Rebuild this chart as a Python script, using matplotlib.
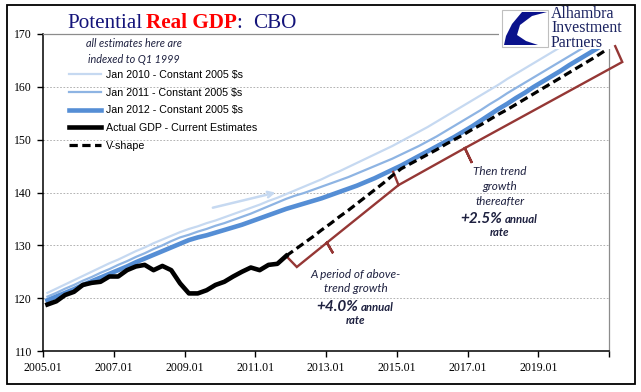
import numpy as np
import matplotlib.pyplot as plt
from matplotlib.patches import Rectangle, Polygon

# quarterly index: 0 = 2005 Q1 ... 63 = 2020 Q4
tick_labels = ['2005.01', '2007.01', '2009.01', '2011.01', '2013.01',
               '2015.01', '2017.01', '2019.01', '']

actual_gdp = [118.8, 119.4, 120.6, 121.2, 122.5, 122.9, 123.1, 124.1, 124.1, 125.3,
              126.0, 126.3, 125.3, 126.1, 125.3, 122.8, 120.9, 120.9, 121.5, 122.5,
              123.1, 124.1, 125.0, 125.8, 125.3, 126.3, 126.5, 128.0]

cbo_2010 = [121.0, 121.8, 122.6, 123.4, 124.2, 125.0, 125.8, 126.6, 127.3, 128.1,
            128.9, 129.6, 130.4, 131.1, 131.8, 132.5, 133.1, 133.6, 134.2, 134.7,
            135.3, 135.9, 136.5, 137.1, 137.7, 138.4, 139.0, 139.7, 140.4, 141.1,
            141.8, 142.5, 143.3, 144.0, 144.8, 145.6, 146.4, 147.2, 148.0, 148.8,
            149.7, 150.6, 151.5, 152.4, 153.4, 154.4, 155.4, 156.4, 157.4, 158.4,
            159.4, 160.4, 161.5, 162.5, 163.5, 164.5, 165.5, 166.5, 167.5, 168.5,
            169.5, 170.5, 171.5, 172.5]

cbo_2011 = [120.3, 121.0, 121.8, 122.5, 123.3, 124.0, 124.8, 125.5, 126.3, 127.0,
            127.8, 128.5, 129.3, 130.0, 130.8, 131.5, 132.0, 132.6, 133.1, 133.7,
            134.2, 134.8, 135.4, 136.0, 136.7, 137.4, 138.1, 138.8, 139.4, 139.9,
            140.5, 141.1, 141.7, 142.3, 142.9, 143.6, 144.3, 145.0, 145.7, 146.4,
            147.2, 148.0, 148.8, 149.7, 150.6, 151.6, 152.6, 153.6, 154.6, 155.6,
            156.7, 157.7, 158.8, 159.8, 160.8, 161.8, 162.8, 163.8, 164.8, 165.8,
            166.8, 167.8, 168.8, 169.8]

cbo_2012 = [119.6, 120.3, 121.0, 121.7, 122.5, 123.2, 123.9, 124.6, 125.3, 126.0,
            126.8, 127.5, 128.2, 128.9, 129.6, 130.3, 131.0, 131.5, 131.9, 132.4,
            132.9, 133.4, 133.9, 134.5, 135.1, 135.7, 136.3, 136.9, 137.4, 137.9,
            138.4, 138.9, 139.5, 140.1, 140.7, 141.3, 142.0, 142.7, 143.5, 144.3,
            145.1, 146.0, 146.9, 147.8, 148.7, 149.6, 150.5, 151.5, 152.5, 153.6,
            154.7, 155.8, 156.8, 157.9, 158.9, 160.0, 161.0, 162.0, 163.0, 164.1,
            165.1, 166.1, 167.1, 168.1]

# V-shape path starts where actual GDP ends (2011 Q4)
v_start = 27
v_shape = [128.0, 129.2, 130.4, 131.6, 132.9, 134.1, 135.4, 136.6, 137.9, 139.2,
           140.5, 141.8, 143.2, 144.5, 145.4, 146.3, 147.2, 148.1, 149.1, 150.0,
           150.9, 151.9, 152.8, 153.8, 154.8, 155.7, 156.7, 157.7, 158.7, 159.7,
           160.7, 161.7, 162.7, 163.7, 164.7, 165.7, 166.8]

# bracket annotations (quarter index, value)
bracket_low = [(27.6, 127.8), (28.7, 125.9), (32.1, 130.5), (32.8, 128.5),
               (32.1, 130.5), (40.2, 141.4), (39.6, 143.9)]
bracket_high = [(40.2, 141.4), (47.7, 148.4), (48.5, 145.6), (47.7, 148.4),
                (65.5, 164.7), (64.7, 167.7)]

W, H = 641, 392


def fx(px):
    return px / W


def fy(py):
    return 1 - py / H


NAVY = '#14147A'
NOTE = '#1E2140'
BROWN = '#953735'

fig = plt.figure(figsize=(W / 100, H / 100), dpi=100)
ax = fig.add_axes([fx(43), fy(351), fx(609) - fx(43), fy(34) - fy(351)])

x_all = np.arange(len(cbo_2012)) + 0.5
x_act = np.arange(len(actual_gdp)) + 0.5
x_v = np.arange(len(v_shape)) + v_start + 0.5

l10, = ax.plot(x_all, cbo_2010, color='#C6D9F1', lw=1.6, label='Jan 2010 - Constant 2005 $s', zorder=2)
l11, = ax.plot(x_all, cbo_2011, color='#8EB4E3', lw=1.6, label='Jan 2011 - Constant 2005 $s', zorder=2)
l12, = ax.plot(x_all, cbo_2012, color='#558ED5', lw=3.3, label='Jan 2012 - Constant 2005 $s', zorder=3)
lv, = ax.plot(x_v, v_shape, color='black', lw=2.3, dashes=(2.6, 1.4), label='V-shape', zorder=4)
la, = ax.plot(x_act, actual_gdp, color='black', lw=3.3, label='Actual GDP - Current Estimates',
              zorder=5, solid_joinstyle='round')

for pts in (bracket_low, bracket_high):
    bx, by = zip(*pts)
    ax.plot(bx, by, color=BROWN, lw=1.7, clip_on=False, zorder=3, solid_joinstyle='miter')

ax.annotate('', xy=(26.6, 140.1), xytext=(18.9, 137.0),
            arrowprops=dict(arrowstyle='->', color='#C6D9F1', lw=1.8))

ax.set_xlim(0, 64)
ax.set_ylim(110, 170)
ax.set_xticks(range(0, 65, 8))
ax.set_xticklabels(tick_labels)
ax.set_yticks(range(110, 171, 10))
ax.tick_params(direction='out', length=4, width=1, labelsize=8.5, pad=4)
for lab in ax.get_xticklabels() + ax.get_yticklabels():
    lab.set_family('Liberation Serif')
ax.yaxis.grid(True, color='#A6A6A6', lw=0.6, ls=(0, (2, 2)))
ax.set_axisbelow(True)
for side in ('left', 'bottom'):
    ax.spines[side].set_color('black')
    ax.spines[side].set_linewidth(1.1)
for side in ('top', 'right'):
    ax.spines[side].set_color('#8C8C8C')
    ax.spines[side].set_linewidth(0.9)

ax.legend([l10, l11, l12, la, lv], [h.get_label() for h in (l10, l11, l12, la, lv)],
          loc='upper left', bbox_to_anchor=(fx(69), fy(70)), bbox_transform=fig.transFigure,
          frameon=False, prop={'family': 'Liberation Sans', 'size': 7.7},
          handlelength=3.0, handletextpad=0.45, labelspacing=0.72,
          borderpad=0, borderaxespad=0)

fig.text(fx(134), fy(51.5), 'all estimates here are\nindexed to Q1 1999', ha='center', va='center',
         fontsize=7.8, style='italic', family='Lato', color=NOTE, linespacing=1.45)

# trend annotations
def note_block(cx, rows, pct_y, pct, rate_y):
    for txt, y in rows:
        fig.text(fx(cx), fy(y), txt, ha='center', va='center', fontsize=8.5,
                 style='italic', family='Lato', color=NOTE)
    fig.text(fx(cx + 2), fy(pct_y), pct, ha='right', va='baseline', fontsize=11,
             style='italic', weight='bold', family='Lato', color=NOTE)
    fig.text(fx(cx + 5), fy(pct_y), 'annual', ha='left', va='baseline', fontsize=8.2,
             style='italic', weight='bold', family='Lato', color=NOTE)
    fig.text(fx(cx), fy(rate_y), 'rate', ha='center', va='center', fontsize=8.2,
             style='italic', weight='bold', family='Lato', color=NOTE)


note_block(356, [('A period of above-', 274), ('trend growth', 289)], 311, '+4.0%', 321)
note_block(500, [('Then trend', 172), ('growth', 187), ('thereafter', 202)], 223, '+2.5%', 233)

# title
fig.text(fx(67), fy(28), 'Potential', color=NAVY, fontsize=15.2,
         family='Liberation Serif', va='baseline')
t2 = fig.text(fx(146), fy(28), 'Real GDP', color='#FF0000', fontsize=15.2,
              family='Liberation Serif', weight='bold', va='baseline')
r = fig.canvas.get_renderer()
bb = t2.get_window_extent(r)
fig.text(bb.x1 / W, fy(28), ':', color=NAVY, fontsize=15.2,
         family='Liberation Serif', va='baseline')
fig.text(fx(253), fy(28), 'CBO', color=NAVY, fontsize=15.2,
         family='Liberation Serif', va='baseline')

# logo
fig.patches.append(Rectangle((fx(499), fy(49)), fx(612) - fx(499), fy(6) - fy(49),
                             transform=fig.transFigure, fc='white', ec='none', zorder=1))
fig.patches.append(Rectangle((fx(502), fy(47)), fx(548) - fx(502), fy(10) - fy(47),
                             transform=fig.transFigure, fc='white', ec='#BFBFBF', lw=0.8, zorder=2))
swoosh = [(547, 12), (522, 12), (512, 24), (506, 36), (504, 45), (538, 45),
          (526, 41), (517, 35), (520, 25), (532, 16)]
fig.patches.append(Polygon([(fx(a), fy(b)) for a, b in swoosh], closed=True,
                           transform=fig.transFigure, fc='#0A128C', ec='none', zorder=3))
fig.text(fx(551), fy(28.5), 'Alhambra\nInvestment\nPartners', ha='left', va='center',
         fontsize=11.4, family='Liberation Serif', color='#1A2260', linespacing=0.84, zorder=4)

# outer frame
fig.patches.append(Rectangle((fx(7), fy(384)), fx(635) - fx(7), fy(5) - fy(384),
                             transform=fig.transFigure, fill=False, ec='black', lw=1.3, zorder=5))

fig.savefig('out.png', dpi=100)
